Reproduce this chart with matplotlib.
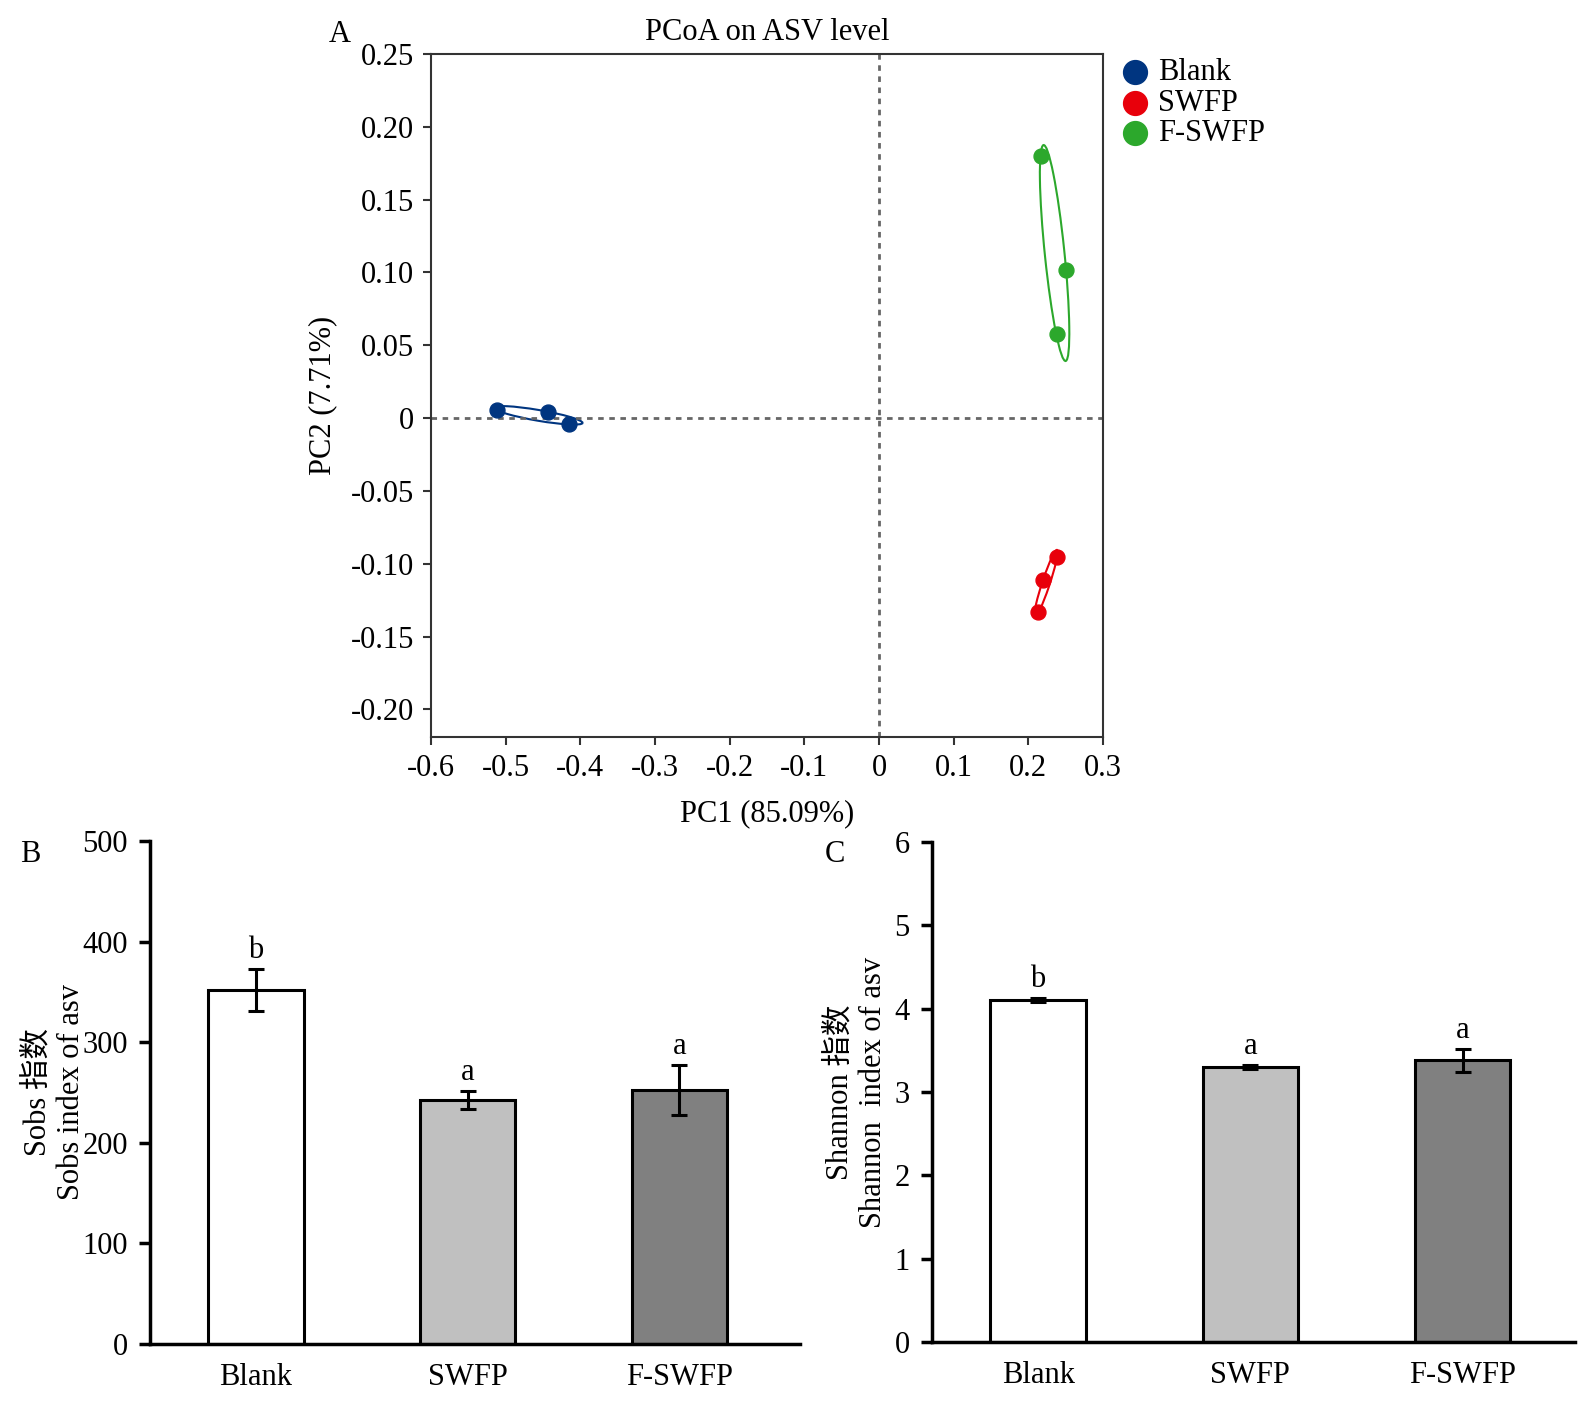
import numpy as np
import matplotlib
matplotlib.use("Agg")
import matplotlib.pyplot as plt
from matplotlib.patches import Ellipse

plt.rcParams['font.family'] = ['Liberation Serif', 'Noto Sans CJK SC']
plt.rcParams['font.size'] = 22

# PCoA sample coordinates (PC1, PC2)
groups = ["Blank", "SWFP", "F-SWFP"]
group_colors = ["#003580", "#E8000B", "#2CA82C"]
pc1_blank = [-0.511, -0.443, -0.415]
pc2_blank = [0.0056, 0.0042, -0.0042]
pc1_swfp = [0.238, 0.220, 0.213]
pc2_swfp = [-0.0957, -0.111, -0.1335]
pc1_fswfp = [0.2175, 0.250, 0.238]
pc2_fswfp = [0.180, 0.102, 0.058]

# alpha diversity
bar_labels = ["Blank", "SWFP", "F-SWFP"]
bar_colors = ["#FFFFFF", "#C0C0C0", "#808080"]
sobs_mean = [352, 242.5, 252.5]
sobs_err = [20.5, 9.3, 24.7]
sobs_sig = ["b", "a", "a"]
shannon_mean = [4.106, 3.30, 3.38]
shannon_err = [0.02, 0.02, 0.135]
shannon_sig = ["b", "a", "a"]

W, H = 1591, 1405


def conf_ellipse(ax, x, y, color, n_std=1.2):
    cov = np.cov(x, y)
    vals, vecs = np.linalg.eigh(cov)
    order = vals.argsort()[::-1]
    vals, vecs = vals[order], vecs[:, order]
    angle = np.degrees(np.arctan2(vecs[1, 0], vecs[0, 0]))
    w, h = 2 * n_std * np.sqrt(vals)
    e = Ellipse((np.mean(x), np.mean(y)), w, h, angle=angle,
                fill=False, edgecolor=color, lw=1.5)
    ax.add_patch(e)


def px_axes(left, top, right, bottom):
    return [left / W, 1 - bottom / H, (right - left) / W, (bottom - top) / H]


fig = plt.figure(figsize=(W / 100, H / 100), dpi=100)

# ---- panel A: PCoA ----
axA = fig.add_axes(px_axes(431, 54, 1103, 737))
pcs = [(pc1_blank, pc2_blank), (pc1_swfp, pc2_swfp), (pc1_fswfp, pc2_fswfp)]
for (px, py), name, col in zip(pcs, groups, group_colors):
    axA.scatter(px, py, s=115, color=col, label=name, zorder=3)
    conf_ellipse(axA, px, py, col)
axA.axhline(0, color="#666666", ls=(0, (2, 2)), lw=2, zorder=1)
axA.axvline(0, color="#666666", ls=(0, (2, 2)), lw=2, zorder=1)
axA.set_xlim(-0.6, 0.3)
axA.set_ylim(-0.219, 0.25)
xt = np.round(np.arange(-0.6, 0.31, 0.1), 2)
axA.set_xticks(xt)
axA.set_xticklabels(["0" if v == 0 else f"{v:.1f}" for v in xt])
yt = np.round(np.arange(-0.20, 0.251, 0.05), 2)
axA.set_yticks(yt)
axA.set_yticklabels(["0" if v == 0 else f"{v:.2f}" for v in yt])
for s in axA.spines.values():
    s.set_color("#333333")
    s.set_linewidth(1.5)
axA.tick_params(direction="out", length=6, width=1.5, color="#333333", pad=6)
axA.set_xlabel("PC1 (85.09%)", labelpad=12)
axA.set_ylabel("PC2 (7.71%)", labelpad=10)
axA.set_title("PCoA on ASV level", pad=10, fontsize=22)
fig.text(340 / W, 1 - 34 / H, "A", ha="center", va="center")
axA.legend(loc="upper left", bbox_to_anchor=(0.982, 1.025), frameon=False,
           handletextpad=0.0, labelspacing=0.05, markerscale=1.6,
           borderaxespad=0.3, handlelength=1.5)


def bar_panel(rect, means, errs, sig, xlim, ylim, yticks, ylabel, label_x,
              tag, tagpos):
    ax = fig.add_axes(rect)
    x = np.arange(len(bar_labels))
    ax.bar(x, means, width=0.45, color=bar_colors, edgecolor="black",
           linewidth=2.2, zorder=2)
    ax.errorbar(x, means, yerr=errs, fmt="none", ecolor="black",
                elinewidth=2.2, capsize=6, capthick=2.2, zorder=3)
    for xi, m, e, t in zip(x, means, errs, sig):
        ax.annotate(t, (xi, m + e), xytext=(0, 3), textcoords="offset points",
                    ha="center", va="bottom")
    ax.set_xlim(*xlim)
    ax.set_ylim(*ylim)
    ax.set_yticks(yticks)
    ax.set_xticks(x)
    ax.set_xticklabels(bar_labels)
    ax.spines["top"].set_visible(False)
    ax.spines["right"].set_visible(False)
    for s in ["left", "bottom"]:
        ax.spines[s].set_linewidth(2.5)
    ax.tick_params(axis="y", direction="out", length=8, width=2.5, pad=8)
    ax.tick_params(axis="x", length=0, pad=14)
    ax.set_ylabel(ylabel, linespacing=1.2)
    ax.yaxis.set_label_coords(label_x, 0.5)
    fig.text(tagpos[0] / W, 1 - tagpos[1] / H, tag, ha="center", va="center")
    return ax


bar_panel(px_axes(150, 841, 800, 1344), sobs_mean, sobs_err, sobs_sig,
          (-0.50, 2.57), (0, 500), np.arange(0, 501, 100),
          "Sobs 指数\nSobs index of asv", -0.098, "B", (30, 855))
bar_panel(px_axes(932, 842, 1575, 1342), shannon_mean, shannon_err,
          shannon_sig, (-0.50, 2.53), (0, 6), np.arange(0, 7, 1),
          "Shannon 指数\nShannon  index of asv", -0.068, "C", (835, 855))

fig.savefig("out.png", dpi=100)
